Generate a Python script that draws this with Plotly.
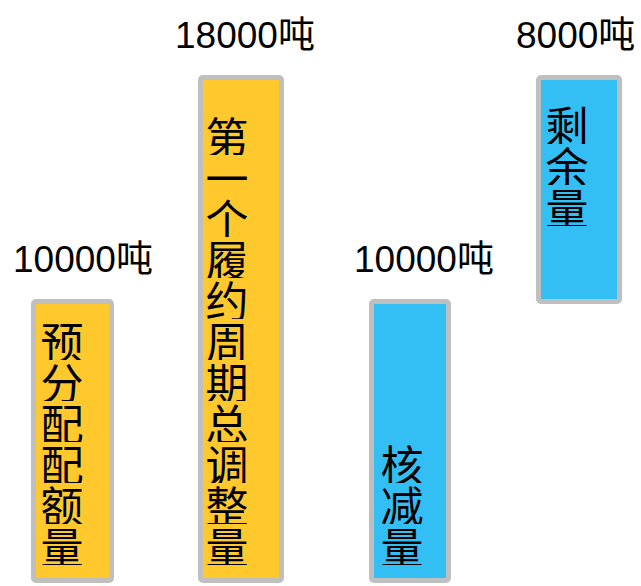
import plotly.graph_objects as go

# Quantities in the first compliance period (tonnes)
categories = ["预分配配额量", "第一个履约周期总调整量", "核减量", "剩余量"]
values = [10000, 18000, 10000, 8000]
bases = [0, 0, 0, 10000]          # the remaining amount sits on top of the reduction
unit = "吨"

# Styling
fills = ["#FFC92E", "#FFC92E", "#33BFF4", "#33BFF4"]
widths = [0.458, 0.482, 0.452, 0.48]
border_color = "#BFBFBF"
border_width = 5
char_font = dict(family="Noto Sans CJK SC", size=43, color="#000000")
label_font = dict(family="Liberation Sans, Noto Sans CJK SC", size=37, color="#000000")
char_step = 41                    # vertical spacing of stacked characters (px)
char_xshift = [-11, -15, -8, -12]
label_xshift = [10, 3, 14, -4]
text_from_top = [False, False, False, True]

fig = go.Figure(
    go.Bar(
        x=categories,
        y=values,
        base=bases,
        width=widths,
        marker=dict(
            color=fills,
            line=dict(color=border_color, width=border_width),
            cornerradius=3,
        ),
        hoverinfo="skip",
    )
)

annotations = []
for i, (cat, v, b) in enumerate(zip(categories, values, bases)):
    top = b + v
    # value label above each bar
    annotations.append(dict(
        x=cat, y=top, xref="x", yref="y",
        text=f"{v}{unit}", showarrow=False,
        font=label_font, yanchor="bottom", xanchor="center",
        xshift=label_xshift[i], yshift=20,
    ))
    # category name written vertically inside the bar, one character per box
    chars = list(cat)
    n = len(chars)
    for j, ch in enumerate(chars):
        if text_from_top[i]:
            y, ys = top, -(25 + char_step / 2 + char_step * j)
        else:
            y, ys = b, 16 + char_step / 2 + char_step * (n - 1 - j)
        annotations.append(dict(
            x=cat, y=y, xref="x", yref="y",
            text=ch, showarrow=False, font=char_font,
            xanchor="center", yanchor="middle",
            width=46, height=char_step - 1, valign="middle",
            borderpad=0,
            xshift=char_xshift[i], yshift=ys,
        ))

# axis ranges chosen so that 18000 t spans the usable height of the canvas
H, W = 586, 641
px_per_t = 503 / 18000
y_min = -(H - 581) / px_per_t
y_max = 18000 + 78 / px_per_t
x_step = 168.8
x_min = -72.85 / x_step
x_max = (W - 72.85) / x_step

fig.update_layout(
    width=W, height=H,
    margin=dict(l=0, r=0, t=0, b=0),
    paper_bgcolor="white", plot_bgcolor="white",
    showlegend=False,
    bargap=0,
    xaxis=dict(type="category", range=[x_min, x_max], visible=False, fixedrange=True),
    yaxis=dict(range=[y_min, y_max], visible=False, fixedrange=True),
    annotations=annotations,
)

fig.write_html("out.html", config={"displayModeBar": False})
